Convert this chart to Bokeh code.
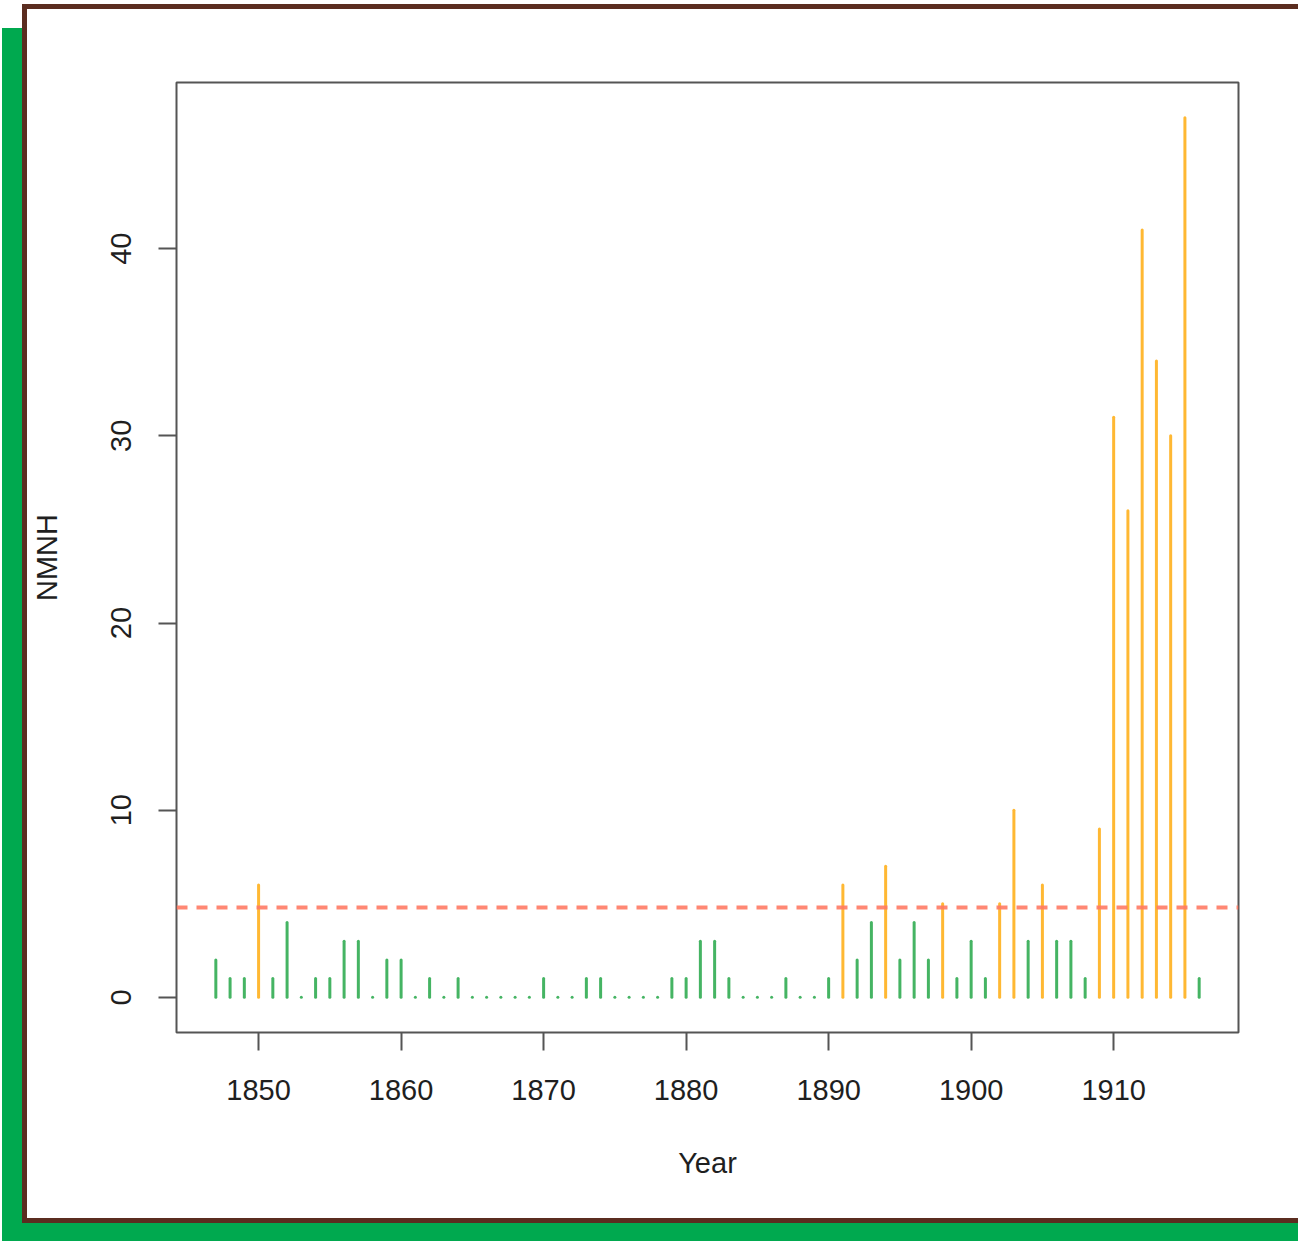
from bokeh.plotting import figure
from bokeh.models import Range1d, FixedTicker, Span
from bokeh.embed import file_html
from bokeh.resources import INLINE

# ---- data ----
years = list(range(1847, 1917))
nmnh = [2, 1, 1, 6, 1, 4, 0, 1, 1, 3, 3, 0, 2, 2, 0, 1, 0, 1, 0, 0,   # 1847-1866
        0, 0, 0, 1, 0, 0, 1, 1, 0, 0, 0, 0, 1, 1, 3, 3, 1, 0, 0, 0,   # 1867-1886
        1, 0, 0, 1, 6, 2, 4, 7, 2, 4, 2, 5, 1, 3, 1, 5, 10, 3, 6, 3,  # 1887-1906
        3, 1, 9, 31, 26, 41, 34, 30, 47, 1]                            # 1907-1916
threshold = 4.8
x_ticks = [1850, 1860, 1870, 1880, 1890, 1900, 1910]
y_ticks = [0, 10, 20, 30, 40]

GREEN = "#45b463"
ORANGE = "#ffb833"
colors = [ORANGE if v > threshold else GREEN for v in nmnh]

xpad = (max(years) - min(years)) * 0.04
ypad = (max(nmnh) - 0) * 0.04

p = figure(width=1271, height=1209,
           x_range=Range1d(min(years) - xpad, max(years) + xpad),
           y_range=Range1d(0 - ypad, max(nmnh) + ypad),
           output_backend="svg", toolbar_location=None,
           min_border_left=149, min_border_right=60,
           min_border_top=73, min_border_bottom=186,
           background_fill_color="white", border_fill_color="white",
           outline_line_color="#555555", outline_line_width=2)
p.styles = {"position": "absolute", "left": "27px", "top": "9px",
            "box-shadow": "0 0 0 5px #5b2d20, -20px 24px 0 5px #00a94f, "
                          "10px 24px 0 5px #00a94f"}

p.xgrid.grid_line_color = None
p.ygrid.grid_line_color = None

p.segment(x0=years, y0=[0] * len(years), x1=years, y1=nmnh,
          line_color=colors, line_width=3, line_cap="round")

p.add_layout(Span(location=threshold, dimension="width", line_color="#ff7a64",
                  line_alpha=0.9, line_width=4, line_dash="11 9"))

TXT = "#1f1f1f"
for ax, ticks in ((p.xaxis, x_ticks), (p.yaxis, y_ticks)):
    ax.ticker = FixedTicker(ticks=ticks)
    ax.axis_line_color = None
    ax.major_tick_line_color = "#555555"
    ax.major_tick_line_width = 2
    ax.major_tick_in = 0
    ax.major_tick_out = 18
    ax.minor_tick_line_color = None
    ax.major_label_text_font = "Liberation Sans"
    ax.major_label_text_font_size = "29px"
    ax.major_label_text_color = TXT
    ax.axis_label_text_font = "Liberation Sans"
    ax.axis_label_text_font_size = "29px"
    ax.axis_label_text_font_style = "normal"
    ax.axis_label_text_color = TXT

p.xaxis.axis_label = "Year"
p.xaxis.major_label_standoff = 29
p.xaxis.axis_label_standoff = 44
p.yaxis.axis_label = "NMNH"
p.yaxis.major_label_orientation = "vertical"
p.yaxis.major_label_standoff = 27
p.yaxis.axis_label_standoff = 46

open("out.html", "w").write(file_html(p, INLINE))
